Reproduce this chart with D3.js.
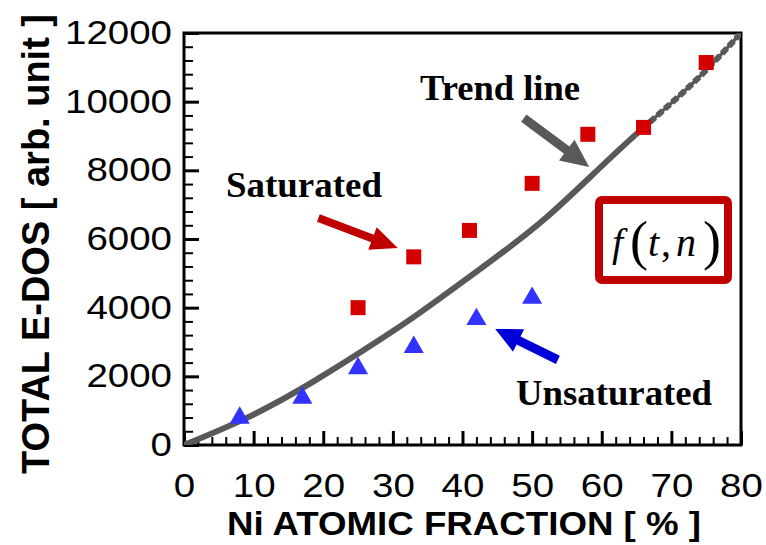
<!DOCTYPE html>
<html>
<head>
<meta charset="utf-8">
<title>Total E-DOS vs Ni atomic fraction</title>
<style>
  body { margin: 0; background: #fff; }
  svg { display: block; }
</style>
</head>
<body>
<svg id="chart" width="766" height="545"></svg>
<script src="https://cdn.jsdelivr.net/npm/d3@7"></script>
<script>
// ---- data ----
const xTicks = [0, 10, 20, 30, 40, 50, 60, 70, 80];
const yTicks = [0, 2000, 4000, 6000, 8000, 10000, 12000];

const satX = [25, 33, 41, 50, 58, 66, 75];
const satY = [4000, 5480, 6250, 7620, 9050, 9250, 11140];

const unsatX = [8, 17, 25, 33, 42, 50];
const unsatY = [820, 1400, 2260, 2880, 3690, 4310];

const trendX = [0, 9, 18.5, 28, 34, 40, 46, 52, 58, 64, 70, 75, 80];
const trendY = [0, 790, 1840, 3050, 3870, 4750, 5650, 6620, 7740, 8880, 9960, 10920, 12000];

// annotation arrows, in data units: [tailX, tailY, tipX, tipY]
const satArrow = [19.3, 6610, 30.7, 5740];
const trendArrow = [48.8, 9520, 58.2, 8100];
const unsatArrow = [53.7, 2480, 44.7, 3380];

const svg = d3.select("#chart");
const pl = 184, pr = 741, pt = 33, pb = 445;

const x = d3.scaleLinear().domain([0, 80]).range([pl, pr]);
const y = d3.scaleLinear().domain([0, 12000]).range([pb, pt]);

const red = "#d40000", darkRed = "#c00000", blue = "#3333ff", gray = "#595959";

// clip paths
const defs = svg.append("defs");
defs.append("clipPath").attr("id", "plot")
  .append("rect").attr("x", pl).attr("y", pt).attr("width", pr - pl).attr("height", pb - pt);
defs.append("clipPath").attr("id", "solidPart")
  .append("rect").attr("x", pl).attr("y", pt).attr("width", x(65) - pl).attr("height", pb - pt);
defs.append("clipPath").attr("id", "dashPart")
  .append("rect").attr("x", x(65)).attr("y", pt).attr("width", pr - x(65)).attr("height", pb - pt);

// minor ticks
const minorX = d3.range(0, 81, 2).filter(v => v % 10 !== 0);
const minorY = d3.range(0, 12001, 400).filter(v => v % 2000 !== 0);

svg.append("g").attr("transform", `translate(0,${pb})`)
  .call(d3.axisBottom(x).tickValues(minorX).tickSize(-8).tickFormat(""))
  .call(g => g.select(".domain").remove())
  .call(g => g.selectAll("line").attr("stroke-width", 2));
svg.append("g").attr("transform", `translate(${pl},0)`)
  .call(d3.axisLeft(y).tickValues(minorY).tickSize(-9).tickFormat(""))
  .call(g => g.select(".domain").remove())
  .call(g => g.selectAll("line").attr("stroke-width", 2));

// major ticks + labels
const sans = "'Liberation Sans', Arial, sans-serif";
svg.append("g").attr("transform", `translate(0,${pb})`)
  .call(d3.axisBottom(x).tickValues(xTicks).tickSize(-14).tickPadding(29).tickFormat(d3.format("d")))
  .call(g => g.select(".domain").remove())
  .call(g => g.selectAll("line").attr("stroke-width", 3))
  .call(g => g.selectAll("text")
    .attr("font-family", sans)
    .attr("font-size", 33)
    .attr("fill", "#000")
    .attr("textLength", d => String(d).length * 21.4)
    .attr("lengthAdjust", "spacingAndGlyphs"));

svg.append("g").attr("transform", `translate(${pl},0)`)
  .call(d3.axisLeft(y).tickValues(yTicks).tickSize(-15).tickPadding(12).tickFormat(d3.format("d")))
  .call(g => g.select(".domain").remove())
  .call(g => g.selectAll("line").attr("stroke-width", 3))
  .call(g => g.selectAll("text")
    .attr("font-family", sans)
    .attr("font-size", 33)
    .attr("fill", "#000")
    .attr("textLength", d => String(d).length * 21.4)
    .attr("lengthAdjust", "spacingAndGlyphs"));

// frame
svg.append("rect")
  .attr("x", pl).attr("y", pt)
  .attr("width", pr - pl).attr("height", pb - pt)
  .attr("fill", "none").attr("stroke", "#000").attr("stroke-width", 3);

// axis titles
svg.append("text")
  .attr("x", 464).attr("y", 535)
  .attr("text-anchor", "middle")
  .attr("font-family", sans)
  .attr("font-weight", "bold")
  .attr("font-size", 34)
  .attr("textLength", 474)
  .attr("lengthAdjust", "spacingAndGlyphs")
  .text("Ni ATOMIC FRACTION [ % ]");

svg.append("text")
  .attr("transform", "translate(49,244) rotate(-90)")
  .attr("text-anchor", "middle")
  .attr("font-family", sans)
  .attr("font-weight", "bold")
  .attr("font-size", 39)
  .attr("textLength", 460)
  .attr("lengthAdjust", "spacingAndGlyphs")
  .text("TOTAL E-DOS [ arb. unit ]");

// trend line
const trend = trendX.map((v, i) => [v, trendY[i]]);
const line = d3.line().x(d => x(d[0])).y(d => y(d[1])).curve(d3.curveNatural);
const plot = svg.append("g").attr("clip-path", "url(#plot)");
plot.append("path").attr("d", line(trend))
  .attr("fill", "none").attr("stroke", gray).attr("stroke-width", 3.5);
plot.append("path").attr("d", line(trend)).attr("clip-path", "url(#solidPart)")
  .attr("fill", "none").attr("stroke", gray).attr("stroke-width", 6);
plot.append("path").attr("d", line(trend)).attr("clip-path", "url(#dashPart)")
  .attr("fill", "none").attr("stroke", gray).attr("stroke-width", 6)
  .attr("stroke-dasharray", "7,3");

// markers
const sq = 15;
svg.append("g").selectAll("rect")
  .data(satX.map((v, i) => [v, satY[i]]))
  .join("rect")
  .attr("x", d => x(d[0]) - sq / 2).attr("y", d => y(d[1]) - sq / 2)
  .attr("width", sq).attr("height", sq)
  .attr("fill", red);

const tri = d3.symbol().type(d3.symbolTriangle).size(175);
svg.append("g").selectAll("path")
  .data(unsatX.map((v, i) => [v, unsatY[i]]))
  .join("path")
  .attr("d", tri)
  .attr("transform", d => `translate(${x(d[0])},${y(d[1]) + 1})`)
  .attr("fill", blue);

// arrows
function arrow(a, color, shaft, headLen, headW) {
  const x1 = x(a[0]), y1 = y(a[1]), x2 = x(a[2]), y2 = y(a[3]);
  const len = Math.hypot(x2 - x1, y2 - y1);
  const ux = (x2 - x1) / len, uy = (y2 - y1) / len;
  const px = -uy, py = ux;
  const bx = x2 - ux * headLen, by = y2 - uy * headLen;
  const pts = [
    [x1 + px * shaft / 2, y1 + py * shaft / 2],
    [bx + px * shaft / 2, by + py * shaft / 2],
    [bx + px * headW / 2, by + py * headW / 2],
    [x2, y2],
    [bx - px * headW / 2, by - py * headW / 2],
    [bx - px * shaft / 2, by - py * shaft / 2],
    [x1 - px * shaft / 2, y1 - py * shaft / 2]
  ];
  svg.append("polygon").attr("points", pts.map(p => p.join(",")).join(" ")).attr("fill", color);
}
arrow(satArrow, darkRed, 8, 27, 24);
arrow(trendArrow, gray, 9, 28, 26);
arrow(unsatArrow, "#0000d8", 9, 26, 25);

// annotation labels
const serif = "'Liberation Serif', 'Times New Roman', serif";
function label(txt, xs, ys, w) {
  svg.append("text").attr("x", xs).attr("y", ys)
    .attr("font-family", serif).attr("font-weight", "bold").attr("font-size", 36)
    .attr("textLength", w).attr("lengthAdjust", "spacingAndGlyphs")
    .text(txt);
}
label("Trend line", 420, 100, 160);
label("Saturated", 226, 197, 156);
label("Unsaturated", 516, 405, 196);

// f(t, n) box
svg.append("rect")
  .attr("x", 599).attr("y", 200).attr("width", 129).attr("height", 80)
  .attr("rx", 3)
  .attr("fill", "#fff").attr("stroke", darkRed).attr("stroke-width", 8);

const ft = svg.append("g").attr("font-family", serif).attr("font-size", 40);
const fParts = [
  ["f", 612, 256, "italic", 40],
  ["(", 630, 259, "normal", 54],
  ["t", 648, 256, "italic", 40],
  [",", 661, 256, "normal", 40],
  ["n", 676, 256, "italic", 40],
  [")", 703, 259, "normal", 54]
];
ft.selectAll("text").data(fParts).join("text")
  .attr("x", d => d[1]).attr("y", d => d[2])
  .attr("font-style", d => d[3]).attr("font-size", d => d[4])
  .text(d => d[0]);
</script>
</body>
</html>
